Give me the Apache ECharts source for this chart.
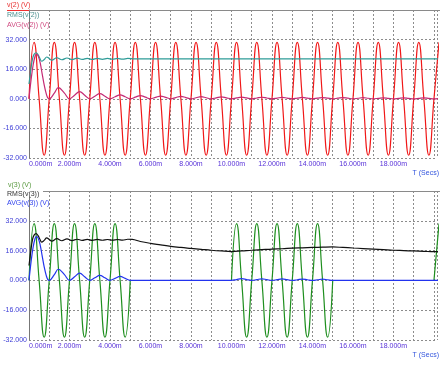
<!DOCTYPE html>
<html><head><meta charset="utf-8">
<script src="https://cdn.jsdelivr.net/npm/echarts@6/dist/echarts.min.js"></script>
<style>html,body{margin:0;padding:0;background:#fff}#c{width:440px;height:373px}</style>
</head><body><div id="c"></div>
<script>
// time in ms (quarter-period sampling of the 1 kHz waveforms)
const tQ = [0,0.25,0.5,0.75,1,1.25,1.5,1.75,2,2.25,2.5,2.75,3,3.25,3.5,3.75,4,4.25,4.5,4.75,
5,5.25,5.5,5.75,6,6.25,6.5,6.75,7,7.25,7.5,7.75,8,8.25,8.5,8.75,9,9.25,9.5,9.75,
10,10.25,10.5,10.75,11,11.25,11.5,11.75,12,12.25,12.5,12.75,13,13.25,13.5,13.75,14,14.25,14.5,14.75,
15,15.25,15.5,15.75,16,16.25,16.5,16.75,17,17.25,17.5,17.75,18,18.25,18.5,18.75,19,19.25,19.5,19.75,
20,20.25];
const v2 = [
0,30.5,0,-30.5, 0,30.5,0,-30.5, 0,30.5,0,-30.5, 0,30.5,0,-30.5, 0,30.5,0,-30.5,
0,30.5,0,-30.5, 0,30.5,0,-30.5, 0,30.5,0,-30.5, 0,30.5,0,-30.5, 0,30.5,0,-30.5,
0,30.5,0,-30.5, 0,30.5,0,-30.5, 0,30.5,0,-30.5, 0,30.5,0,-30.5, 0,30.5,0,-30.5,
0,30.5,0,-30.5, 0,30.5,0,-30.5, 0,30.5,0,-30.5, 0,30.5,0,-30.5, 0,30.5,0,-30.5,
0,30.5];
const v3 = [
0,30.5,0,-30.5, 0,30.5,0,-30.5, 0,30.5,0,-30.5, 0,30.5,0,-30.5, 0,30.5,0,-30.5,
0,null,null,null, null,null,null,null, null,null,null,null, null,null,null,null, null,null,null,null,
0,30.5,0,-30.5, 0,30.5,0,-30.5, 0,30.5,0,-30.5, 0,30.5,0,-30.5, 0,30.5,0,-30.5,
0,null,null,null, null,null,null,null, null,null,null,null, null,null,null,null, null,null,null,null,
0,30.5];
const rms2 = [[0,8],[0.08,15],[0.17,21.5],[0.25,24],[0.35,24.9],[0.45,23.8],[0.55,21.5],[0.625,20.3],[0.75,21.2],[0.875,22.6],[1,21.8],
[1.125,20.85],[1.375,22.2],[1.625,21.1],[1.875,22.05],[2.125,21.2],[2.375,21.95],[2.625,21.3],[2.875,21.9],[3.125,21.3],
[3.375,21.85],[3.625,21.35],[3.875,21.8],[4.125,21.4],[4.375,21.8],[4.625,21.4],[4.875,21.8],[5.2,21.6],[20.2,21.6]];
const avg2 = [[0,0],[0.1,10],[0.2,18],[0.3,23],[0.37,24],[0.45,23.2],[0.55,19.5],[0.65,13.5],[0.75,7.5],[0.85,2.8],[0.93,0.4],[1,0],
[1.25,3.1],[1.45,6.0],[1.75,3.1],[2,0],[2.25,1.95],[2.5,3.9],[2.75,1.95],[3,0],[3.25,1.4],[3.5,2.75],[3.75,1.4],[4,0],
[4.25,1.08],[4.5,2.15],[4.75,1.08],[5,0],[5.25,0.88],[5.5,1.77],[5.75,0.88],[6,0],[6.25,0.75],[6.5,1.49],[6.75,0.75],[7,0],
[7.25,0.65],[7.5,1.29],[7.75,0.65],[8,0],[8.25,0.57],[8.5,1.14],[8.75,0.57],[9,0],[9.25,0.51],[9.5,1.02],[9.75,0.51],[10,0],
[10.25,0.46],[10.5,0.92],[10.75,0.46],[11,0],[11.25,0.42],[11.5,0.84],[11.75,0.42],[12,0],[12.25,0.39],[12.5,0.78],[12.75,0.39],[13,0],
[13.25,0.36],[13.5,0.72],[13.75,0.36],[14,0],[14.25,0.34],[14.5,0.67],[14.75,0.34],[15,0],[15.25,0.32],[15.5,0.63],[15.75,0.32],[16,0],
[16.25,0.3],[16.5,0.59],[16.75,0.3],[17,0],[17.25,0.28],[17.5,0.55],[17.75,0.28],[18,0],[18.25,0.26],[18.5,0.52],[18.75,0.26],[19,0],
[19.25,0.25],[19.5,0.5],[19.75,0.25],[20,0],[20.2,0.1]];
const rms3 = [[0,8],[0.08,15],[0.17,21.8],[0.25,24.3],[0.35,25.1],[0.45,24],[0.55,21.8],[0.625,20.6],[0.75,21.5],[0.875,22.8],[1,22],
[1.125,21.1],[1.375,22.4],[1.625,21.3],[1.875,22.25],[2.125,21.4],[2.375,22.1],[2.625,21.5],[2.875,22.05],[3.125,21.5],
[3.375,22],[3.625,21.55],[3.875,21.95],[4.125,21.6],[4.375,21.95],[4.625,21.6],[4.875,22.1],[5.1,22],[5.5,20.9],[6,19.9],
[6.5,19.1],[7,18.3],[7.5,17.7],[8,17.2],[8.5,16.7],[9,16.2],[9.5,15.8],[10,15.5],[10.5,15.8],[11,16.2],[11.5,16.5],[12,16.8],
[12.5,17],[13,17.3],[13.5,17.5],[14,17.7],[14.5,17.85],[15,17.95],[15.5,17.7],[16,17.4],[16.5,17.1],[17,16.8],[17.5,16.5],
[18,16.2],[18.5,16],[19,15.8],[19.5,15.6],[20,15.4],[20.2,15.5]];
const avg3 = [[0,0],[0.1,9.8],[0.2,17.6],[0.3,22.5],[0.37,23.5],[0.45,22.7],[0.55,19.1],[0.65,13.2],[0.75,7.3],[0.85,2.7],[0.93,0.4],[1,0],
[1.25,3.1],[1.45,6.0],[1.75,3.1],[2,0],[2.25,1.95],[2.5,3.9],[2.75,1.95],[3,0],[3.25,1.4],[3.5,2.75],[3.75,1.4],[4,0],
[4.25,1.08],[4.5,2.15],[4.75,1.08],[5,0],[10,0],
[10.25,0.46],[10.5,0.92],[10.75,0.46],[11,0],[11.25,0.42],[11.5,0.84],[11.75,0.42],[12,0],[12.25,0.39],[12.5,0.78],[12.75,0.39],[13,0],
[13.25,0.36],[13.5,0.72],[13.75,0.36],[14,0],[14.25,0.34],[14.5,0.67],[14.75,0.34],[15,0],[20.2,0]];
const yTicks = [-32,-16,0,16,32];
const xLabelTicks = [0,2,4,6,8,10,12,14,16,18];

const FONT = 'Liberation Sans, Arial, sans-serif';
const chart = echarts.init(document.getElementById('c'), null, {renderer:'canvas'});
const grid = [
  {left:29, right:0, top:10, height:148},
  {left:29, right:0, top:191, height:149}
];
function xAx(i){
  return {type:'value', gridIndex:i, min:0, max:20.15, interval:1,
    axisLine:{show:false}, axisTick:{show:false},
    axisLabel:{fontSize:7, fontFamily:FONT, color:'#5630d8', margin:3, alignMinLabel:'left',
      formatter:v=> xLabelTicks.includes(v) ? v.toFixed(3)+'m' : ''},
    splitLine:{show:true, lineStyle:{color:'#8c8c8c', type:[2,2], width:1}}};
}
function yAx(i){
  return {type:'value', gridIndex:i, min:-32, max:48, interval:16,
    axisLine:{show:true, onZero:false, lineStyle:{color:'#777', width:1}}, axisTick:{show:false},
    axisLabel:{fontSize:7, fontFamily:FONT, color:'#3b3bd6', margin:2,
      formatter:v=> yTicks.includes(v) ? v.toFixed(3) : ''},
    splitLine:{show:true, lineStyle:{color:'#8c8c8c', type:[2,2], width:1}}};
}
function ser(name, data, color, gi, smooth){
  return {name, type:'line', xAxisIndex:gi, yAxisIndex:gi, data, showSymbol:false, symbol:'none',
    smooth: smooth, lineStyle:{color, width:1.2}, itemStyle:{color}, silent:true, connectNulls:false};
}
const pair = (t, v) => t.map((x,i)=>[x, v[i]===null ? '-' : v[i]]);
function txt(x,y,s,color,extra){
  return Object.assign({type:'text', x, y, z:100, style:{text:s, fill:color, font:'7px '+FONT, textVerticalAlign:'middle'}}, extra||{});
}
chart.setOption({
  animation:false,
  backgroundColor:'#fff',
  grid,
  xAxis:[xAx(0), xAx(1)],
  yAxis:[yAx(0), yAx(1)],
  series:[
    ser('v(2) (V)', pair(tQ, v2), '#f01818', 0, true),
    ser('RMS(v(2))', rms2, '#2e9c98', 0, 0.4),
    ser('AVG(v(2)) (V)', avg2, '#c42a74', 0, 0.4),
    ser('v(3) (V)', pair(tQ, v3), '#1f8f1f', 1, true),
    ser('RMS(v(3))', rms3, '#111111', 1, 0.4),
    ser('AVG(v(3)) (V)', avg3, '#2233ee', 1, 0.4)
  ],
  graphic:[
    {type:'line', z:50, shape:{x1:29, y1:10.5, x2:440, y2:10.5}, style:{stroke:'#8a8a8a', lineWidth:1}},
    {type:'line', z:50, shape:{x1:29, y1:191.5, x2:440, y2:191.5}, style:{stroke:'#8a8a8a', lineWidth:1}},
    {type:'line', z:60, shape:{x1:7, y1:10.5, x2:29, y2:10.5}, style:{stroke:'#f03030', lineWidth:1}},
    txt(7,5,'v(2) (V)','#e83030'),
    txt(7,15,'RMS(v(2))','#4a8f8f'),
    txt(7,25,'AVG(v(2)) (V)','#d04a80'),
    txt(8,185,'v(3) (V)','#5a9a40'),
    {type:'rect', z:90, shape:{x:6, y:189, width:37, height:8}, style:{fill:'#fff'}},
    txt(7,194,'RMS(v(3))','#333333'),
    txt(7,203,'AVG(v(3)) (V)','#3344ee'),
    {type:'text', x:439, y:173, z:100, style:{text:'T (Secs)', fill:'#3355dd', font:'7px '+FONT, textAlign:'right', textVerticalAlign:'middle'}},
    {type:'text', x:439, y:355, z:100, style:{text:'T (Secs)', fill:'#3355dd', font:'7px '+FONT, textAlign:'right', textVerticalAlign:'middle'}}
  ]
});
</script></body></html>
